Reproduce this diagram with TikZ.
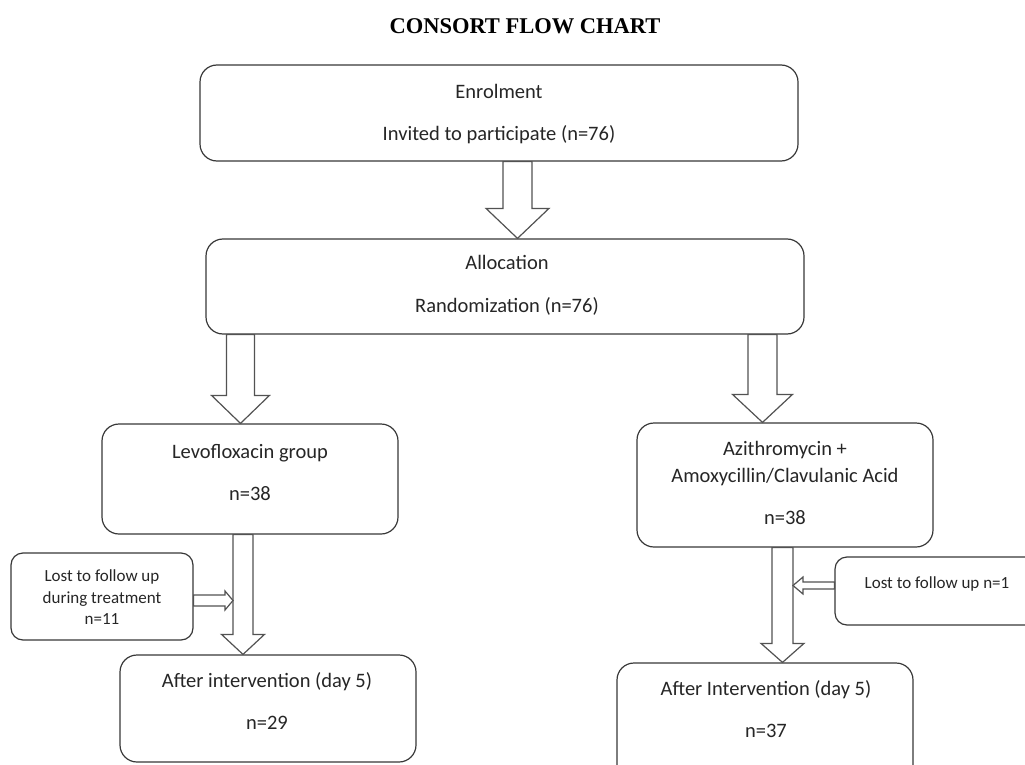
\documentclass[tikz,border=0pt]{standalone}
\usepackage{fontspec}
\setmainfont{Carlito}
\newfontfamily\titlefont{Liberation Serif}
\usetikzlibrary{calc}
% vertical block arrow: from node, to node, centre x, shaft half width, head half width, head length
\newcommand\vblock[6]{%
  \draw[blockarrow] let \p1=(#1.south), \p2=(#2.north) in
    ({#3-#4},\y1) -- ({#3+#4},\y1) -- ({#3+#4},{\y2+#6}) -- ({#3+#5},{\y2+#6})
    -- (#3,\y2) -- ({#3-#5},{\y2+#6}) -- ({#3-#4},{\y2+#6}) -- cycle;}
% horizontal block arrow: from anchor, to tip coordinate, shaft half, head half, signed head length
\newcommand\hblock[5]{%
  \draw[blockarrow] let \p1=(#1), \p2=(#2) in
    (\x1,{\y2-#3}) -- ({\x2-#5},{\y2-#3}) -- ({\x2-#5},{\y2-#4}) -- (\x2,\y2)
    -- ({\x2-#5},{\y2+#4}) -- ({\x2-#5},{\y2+#3}) -- (\x1,{\y2+#3}) -- cycle;}
\begin{document}
\begin{tikzpicture}[x=1pt,y=-1pt,
  box/.style={draw=black!78, line width=1.2pt, rounded corners=17pt, fill=white, inner sep=0pt},
  smallbox/.style={box, rounded corners=12pt},
  txt/.style={inner sep=0pt, anchor=base, text=black!85, font=\fontsize{20.5}{24}\selectfont},
  stxt/.style={txt, font=\fontsize{17}{20}\selectfont},
  ttl/.style={inner sep=0pt, anchor=base, text=black, font=\titlefont\bfseries\fontsize{22.5}{27}\selectfont},
  blockarrow/.style={draw=black!68, line width=1.2pt, fill=white, line join=miter}]
\useasboundingbox (0,0) rectangle (1025,765);
\clip (0,0) rectangle (1025,765);

\node[ttl] (title) at (525,34) {CONSORT FLOW CHART};

% boxes
\node[box, minimum width=598pt, minimum height=96pt] (enrol) at (499,113) {};
\node[box, minimum width=598pt, minimum height=95pt] (alloc) at (505,286.5) {};
\node[box, minimum width=296pt, minimum height=110pt] (levo) at (250,479) {};
\node[box, minimum width=296pt, minimum height=124pt] (azi) at (785,485) {};
\node[smallbox, minimum width=182pt, minimum height=87pt] (lostL) at (102,596.5) {};
\node[smallbox, minimum width=230pt, minimum height=68pt] (lostR) at (950,591) {};
\node[box, minimum width=296pt, minimum height=107pt] (afterL) at (268,708.5) {};
\node[box, minimum width=296pt, minimum height=137pt] (afterR) at (765,731.5) {};

% texts
\node[txt] (enrolT1) at (499,99) {Enrolment};
\node[txt] (enrolT2) at (499,140) {Invited to participate (n=76)};
\node[txt] (allocT1) at (507,269) {Allocation};
\node[txt] (allocT2) at (507,312) {Randomization (n=76)};
\node[txt] (levoT1) at (250,458) {Levofloxacin group};
\node[txt] (levoT2) at (250,500) {n=38};
\node[txt] (aziT1) at (785,455) {Azithromycin +};
\node[txt] (aziT2) at (785,482) {Amoxycillin/Clavulanic Acid};
\node[txt] (aziT3) at (785,524) {n=38};
\node[txt] (afterLT1) at (267,687) {After intervention (day 5)};
\node[txt] (afterLT2) at (267,729) {n=29};
\node[txt] (afterRT1) at (766,695) {After Intervention (day 5)};
\node[txt] (afterRT2) at (766,737) {n=37};
\node[stxt] (lostLT1) at (102,581) {Lost to follow up};
\node[stxt] (lostLT2) at (102,603) {during treatment};
\node[stxt] (lostLT3) at (102,624) {n=11};
\node[stxt] (lostRT) at (937,588) {Lost to follow up n=1};

% block arrows
\vblock{enrol}{alloc}{517.5}{14.5}{31.5}{30}
\vblock{alloc}{levo}{240.5}{14}{29}{28}
\vblock{alloc}{azi}{762.5}{14.5}{30}{28}
\vblock{levo}{afterL}{243}{10}{21.5}{20}
\vblock{azi}{afterR}{782.5}{10.5}{21.5}{19}

\coordinate (tipL) at (233,600.5);
\coordinate (tipR) at (793,585.5);
\hblock{lostL.east}{tipL}{5.5}{9.5}{8}
\hblock{lostR.west}{tipR}{3.5}{8.5}{-10}
\end{tikzpicture}
\end{document}
